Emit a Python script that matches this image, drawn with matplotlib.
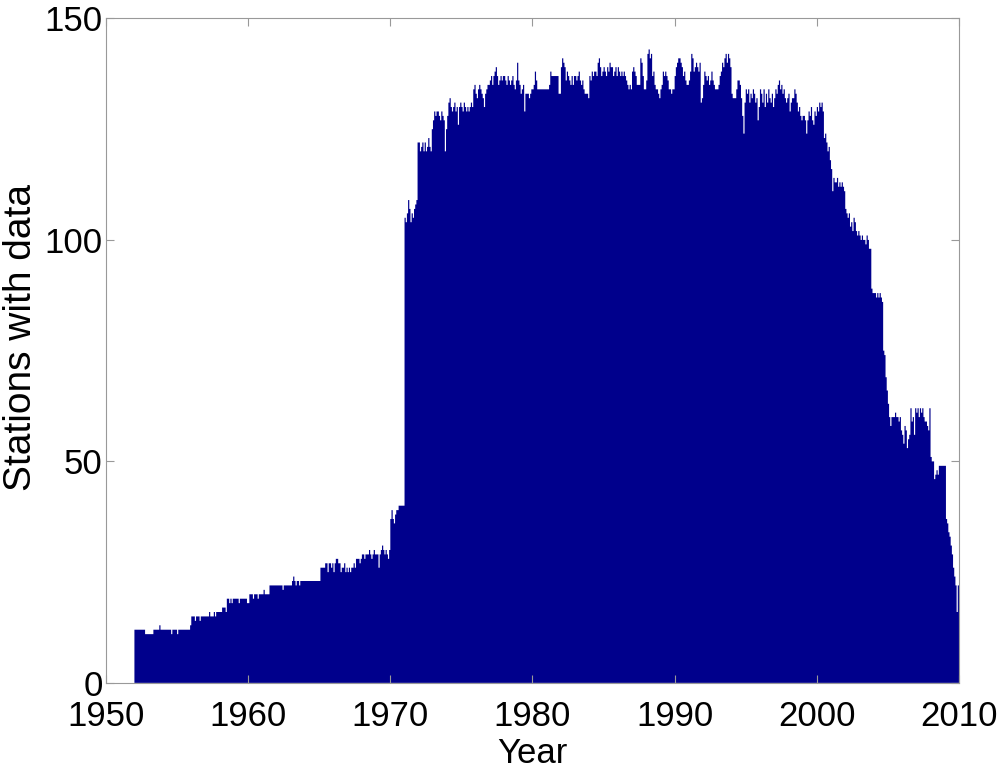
import matplotlib
matplotlib.use("Agg")
import matplotlib.pyplot as plt
import numpy as np

# monthly number of stations reporting, Jan 1952 .. Dec 2009
stations = {
    1952: [12, 12, 12, 12, 12, 12, 12, 12, 12, 11, 11, 11],
    1953: [11, 11, 11, 11, 12, 12, 12, 12, 12, 13, 12, 12],
    1954: [12, 12, 12, 12, 12, 12, 12, 11, 12, 12, 12, 12],
    1955: [11, 12, 12, 12, 12, 12, 12, 12, 12, 12, 12, 13],
    1956: [15, 15, 15, 14, 15, 15, 15, 14, 15, 15, 15, 15],
    1957: [15, 15, 15, 16, 15, 15, 15, 16, 15, 16, 16, 16],
    1958: [16, 16, 17, 17, 17, 16, 19, 19, 18, 19, 18, 19],
    1959: [19, 19, 19, 19, 18, 19, 19, 19, 19, 19, 19, 18],
    1960: [18, 20, 20, 20, 19, 20, 20, 20, 19, 20, 20, 20],
    1961: [20, 21, 20, 20, 20, 20, 22, 22, 22, 22, 22, 22],
    1962: [22, 22, 22, 22, 22, 21, 22, 22, 22, 22, 22, 22],
    1963: [22, 23, 24, 23, 22, 23, 23, 22, 23, 23, 23, 23],
    1964: [23, 23, 23, 23, 23, 23, 23, 23, 23, 23, 23, 23],
    1965: [23, 26, 26, 26, 26, 27, 27, 25, 27, 27, 26, 27],
    1966: [25, 27, 28, 28, 27, 27, 25, 26, 26, 27, 25, 26],
    1967: [25, 26, 25, 26, 26, 27, 26, 28, 28, 28, 27, 28],
    1968: [29, 29, 28, 29, 29, 29, 30, 29, 28, 29, 30, 29],
    1969: [29, 29, 26, 29, 30, 31, 30, 29, 30, 29, 28, 30],
    1970: [37, 39, 37, 36, 38, 39, 39, 40, 40, 40, 40, 40],
    1971: [105, 104, 106, 109, 107, 104, 106, 105, 107, 108, 109, 122],
    1972: [122, 120, 121, 122, 120, 122, 120, 121, 123, 121, 120, 125],
    1973: [127, 129, 128, 129, 129, 128, 127, 129, 128, 127, 120, 125],
    1974: [128, 131, 132, 130, 129, 130, 131, 129, 130, 126, 130, 131],
    1975: [130, 129, 131, 130, 129, 130, 129, 130, 131, 130, 134, 135],
    1976: [133, 132, 134, 135, 134, 133, 132, 130, 133, 134, 135, 135],
    1977: [136, 137, 135, 137, 138, 139, 137, 135, 136, 137, 136, 137],
    1978: [137, 136, 135, 137, 136, 135, 136, 137, 135, 134, 136, 140],
    1979: [136, 135, 133, 134, 135, 129, 133, 133, 133, 132, 133, 134],
    1980: [134, 135, 138, 136, 134, 134, 134, 134, 134, 134, 134, 134],
    1981: [134, 134, 135, 138, 137, 137, 137, 137, 137, 137, 133, 133],
    1982: [139, 141, 140, 139, 136, 138, 137, 136, 135, 137, 135, 137],
    1983: [137, 136, 137, 138, 136, 135, 136, 134, 133, 133, 133, 132],
    1984: [137, 136, 138, 137, 138, 138, 137, 140, 141, 139, 137, 138],
    1985: [139, 138, 137, 139, 138, 140, 139, 139, 137, 138, 139, 137],
    1986: [139, 138, 137, 138, 137, 138, 137, 136, 135, 134, 135, 134],
    1987: [138, 139, 138, 137, 135, 135, 135, 141, 140, 137, 134, 134],
    1988: [136, 142, 143, 141, 142, 137, 138, 135, 134, 134, 133, 132],
    1989: [134, 135, 138, 137, 138, 137, 136, 134, 134, 133, 134, 134],
    1990: [137, 139, 140, 141, 141, 140, 139, 137, 138, 136, 135, 135],
    1991: [136, 138, 142, 141, 138, 139, 140, 139, 138, 140, 131, 132],
    1992: [135, 138, 137, 136, 137, 135, 136, 138, 136, 135, 134, 134],
    1993: [134, 135, 137, 138, 140, 139, 141, 142, 140, 142, 141, 139],
    1994: [133, 132, 132, 132, 134, 136, 136, 135, 132, 128, 124, 131],
    1995: [134, 133, 134, 131, 133, 132, 134, 133, 131, 132, 127, 130],
    1996: [134, 133, 131, 134, 130, 133, 131, 134, 132, 131, 133, 130],
    1997: [132, 134, 133, 135, 136, 134, 135, 133, 134, 132, 131, 132],
    1998: [133, 129, 131, 132, 132, 134, 133, 131, 129, 130, 128, 127],
    1999: [128, 128, 127, 124, 127, 129, 128, 130, 127, 126, 129, 128],
    2000: [130, 129, 131, 130, 131, 129, 123, 124, 122, 120, 121, 118],
    2001: [116, 111, 114, 113, 113, 114, 112, 113, 112, 113, 112, 111],
    2002: [107, 106, 105, 106, 103, 104, 102, 105, 104, 102, 101, 102],
    2003: [101, 100, 101, 100, 100, 99, 101, 100, 98, 98, 89, 88],
    2004: [88, 88, 87, 88, 87, 88, 87, 86, 75, 74, 69, 66],
    2005: [63, 60, 58, 60, 60, 60, 61, 60, 60, 59, 60, 57],
    2006: [56, 54, 58, 57, 53, 55, 56, 62, 59, 60, 56, 62],
    2007: [61, 62, 60, 62, 61, 62, 60, 59, 59, 58, 57, 62],
    2008: [51, 50, 50, 46, 47, 48, 47, 49, 49, 49, 49, 49],
    2009: [49, 37, 36, 34, 33, 31, 29, 26, 24, 22, 16, 22],
}

years = sorted(stations)
counts = np.array([v for y in years for v in stations[y]], dtype=float)
edges = years[0] + np.arange(len(counts) + 1) / 12.0

xticks = list(range(1950, 2011, 10))
yticks = [0, 50, 100, 150]

plt.rcParams['font.family'] = ['Liberation Sans', 'DejaVu Sans']

fig = plt.figure(figsize=(9.98, 7.69), dpi=100)
ax = fig.add_axes([0.1062, 0.112, 0.8547, 0.864])

ax.stairs(counts, edges, fill=True, color='#00008C', linewidth=0)

ax.set_xlim(1950, 2010)
ax.set_ylim(0, 150)
ax.set_xticks(xticks)
ax.set_yticks(yticks)

ax.tick_params(direction='in', length=6, width=0.8, color='#999999',
               labelsize=25, top=True, right=True)
ax.tick_params(axis='x', pad=12)
ax.tick_params(axis='y', pad=2.5)
for s in ax.spines.values():
    s.set_color('#999999')
    s.set_linewidth(0.8)

ax.set_xlabel('Year', fontsize=25, labelpad=3)
ax.set_ylabel('Stations with data', fontsize=28)
ax.yaxis.set_label_coords(-0.078, 0.52)

fig.savefig('out.png', dpi=100)
